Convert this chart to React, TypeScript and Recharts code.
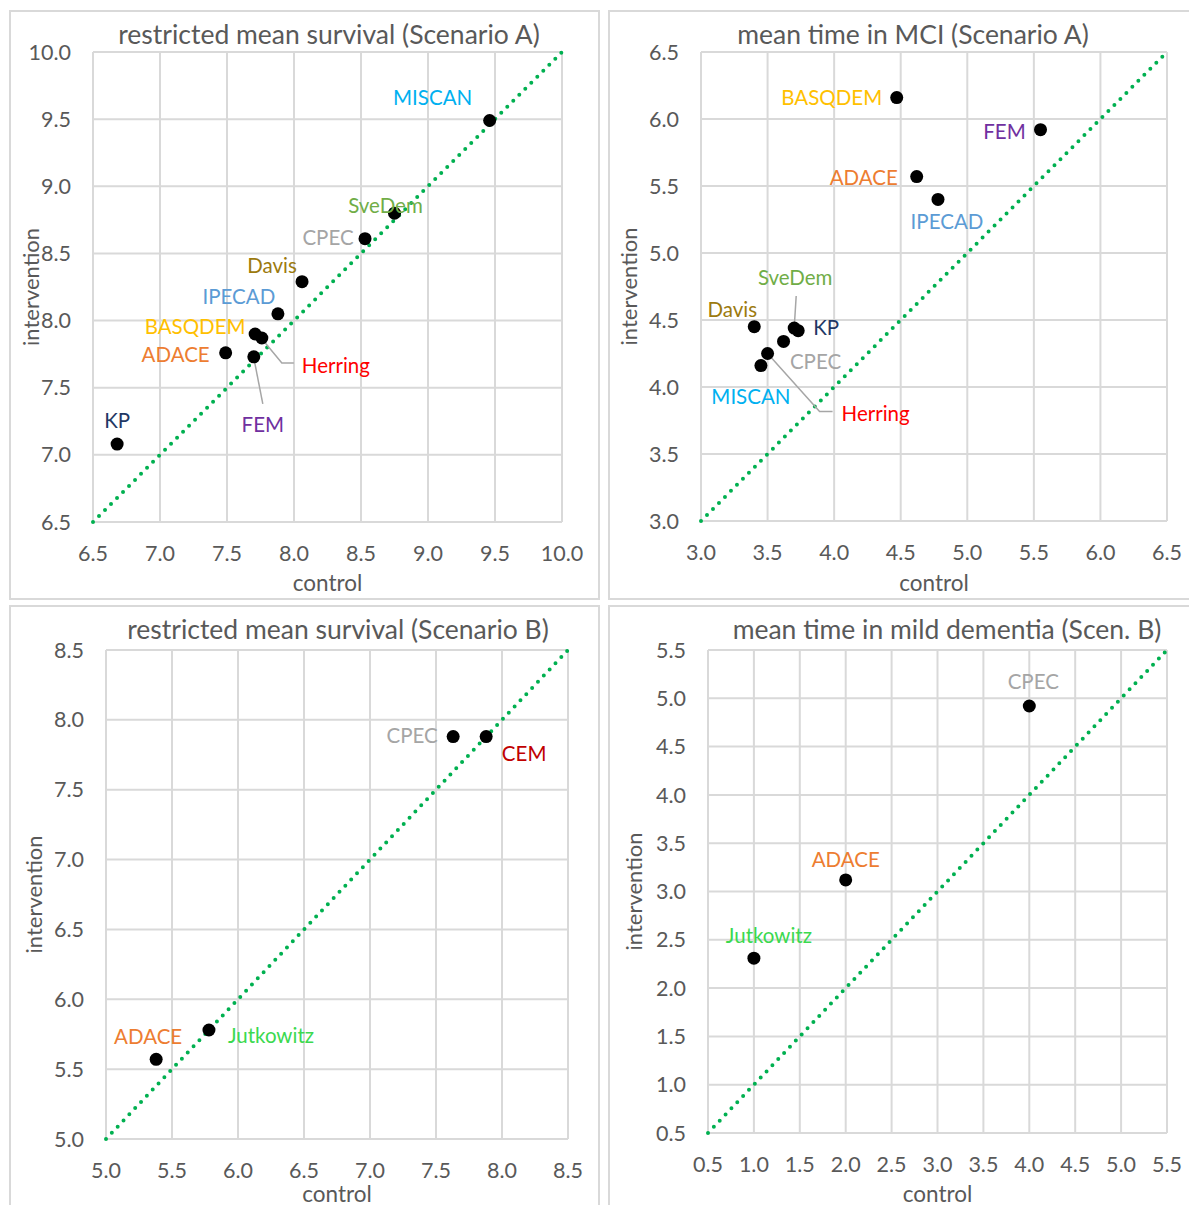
import React from 'react';
import { ScatterChart, Scatter, XAxis, YAxis, CartesianGrid, ReferenceLine, Label } from 'recharts';

// ---- Panel 1: restricted mean survival (Scenario A)
const a1Names = ['MISCAN', 'SveDem', 'CPEC', 'Davis', 'IPECAD', 'BASQDEM', 'Herring', 'FEM', 'ADACE', 'KP'];
const a1Control = [9.46, 8.75, 8.53, 8.06, 7.88, 7.71, 7.76, 7.70, 7.49, 6.68];
const a1Intervention = [9.49, 8.80, 8.61, 8.29, 8.05, 7.90, 7.87, 7.73, 7.76, 7.08];
const a1Ticks = [6.5, 7.0, 7.5, 8.0, 8.5, 9.0, 9.5, 10.0];

// ---- Panel 2: mean time in MCI (Scenario A)
const a2Names = ['BASQDEM', 'FEM', 'ADACE', 'IPECAD', 'SveDem', 'Davis', 'KP', 'CPEC', 'MISCAN', 'Herring'];
const a2Control = [4.47, 5.55, 4.62, 4.78, 3.70, 3.40, 3.73, 3.62, 3.45, 3.50];
const a2Intervention = [6.16, 5.92, 5.57, 5.40, 4.44, 4.45, 4.42, 4.34, 4.16, 4.25];
const a2Ticks = [3.0, 3.5, 4.0, 4.5, 5.0, 5.5, 6.0, 6.5];

// ---- Panel 3: restricted mean survival (Scenario B)
const b1Names = ['CPEC', 'CEM', 'ADACE', 'Jutkowitz'];
const b1Control = [7.63, 7.88, 5.38, 5.78];
const b1Intervention = [7.88, 7.88, 5.57, 5.78];
const b1Ticks = [5.0, 5.5, 6.0, 6.5, 7.0, 7.5, 8.0, 8.5];

// ---- Panel 4: mean time in mild dementia (Scen. B)
const b2Names = ['CPEC', 'ADACE', 'Jutkowitz'];
const b2Control = [4.0, 2.0, 1.0];
const b2Intervention = [4.92, 3.12, 2.31];
const b2Ticks = [0.5, 1.0, 1.5, 2.0, 2.5, 3.0, 3.5, 4.0, 4.5, 5.0, 5.5];

// ---- styles
const COLORS: Record<string, string> = {
  MISCAN: '#00B0F0',
  SveDem: '#70AD47',
  CPEC: '#A5A5A5',
  Davis: '#9C7A0E',
  IPECAD: '#5B9BD5',
  BASQDEM: '#FFC000',
  Herring: '#FF0000',
  FEM: '#7030A0',
  ADACE: '#ED7D31',
  KP: '#1F3864',
  CEM: '#C00000',
  Jutkowitz: '#3BD94F',
};

type LabelStyle = { dx: number; dy: number; anchor?: 'start' | 'middle' | 'end'; leader?: number[][] };

const a1Labels: Record<string, LabelStyle> = {
  MISCAN: { dx: -57, dy: -23 },
  SveDem: { dx: -9, dy: -8 },
  CPEC: { dx: -37, dy: -2 },
  Davis: { dx: -30, dy: -17 },
  IPECAD: { dx: -39, dy: -18 },
  BASQDEM: { dx: -60, dy: -8 },
  ADACE: { dx: -50, dy: 1 },
  Herring: { dx: 40, dy: 27, anchor: 'start', leader: [[1, 2], [20, 25], [32, 25]] },
  FEM: { dx: 9, dy: 67, leader: [[0, 1], [9, 47]] },
  KP: { dx: 0, dy: -24 },
};
const a2Labels: Record<string, LabelStyle> = {
  BASQDEM: { dx: -65, dy: -1 },
  FEM: { dx: -36, dy: 1 },
  ADACE: { dx: -53, dy: 0 },
  IPECAD: { dx: 9, dy: 22 },
  SveDem: { dx: 1, dy: -51, leader: [[0, 0], [2, -32]] },
  Davis: { dx: -22, dy: -18 },
  KP: { dx: 28, dy: -4 },
  CPEC: { dx: 32, dy: 20 },
  MISCAN: { dx: -10, dy: 30 },
  Herring: { dx: 74, dy: 59, anchor: 'start', leader: [[0, 0], [52, 58], [65, 58]] },
};
const b1Labels: Record<string, LabelStyle> = {
  CPEC: { dx: -41, dy: -2 },
  CEM: { dx: 38, dy: 16 },
  ADACE: { dx: -8, dy: -23 },
  Jutkowitz: { dx: 62, dy: 5 },
};
const b2Labels: Record<string, LabelStyle> = {
  CPEC: { dx: 4, dy: -25 },
  ADACE: { dx: 0, dy: -21 },
  Jutkowitz: { dx: 15, dy: -23 },
};

const FONT = 'Lato, "Open Sans", sans-serif';
const TEXT_GRAY = '#595959';
const GRID = '#D9D9D9';

type PanelCfg = {
  title: string;
  names: string[];
  control: number[];
  intervention: number[];
  ticks: number[];
  labels: Record<string, LabelStyle>;
  box: { left: number; top: number; w: number; h: number };
  plot: { x0: number; x1: number; y0: number; y1: number };
  titleX: number;
  yLabelX: number;
  xLabelDy: number;
};

const panels: PanelCfg[] = [
  {
    title: 'restricted mean survival (Scenario A)',
    names: a1Names, control: a1Control, intervention: a1Intervention, ticks: a1Ticks, labels: a1Labels,
    box: { left: 9, top: 10, w: 591, h: 590 },
    plot: { x0: 93, x1: 562, y0: 52, y1: 522 },
    titleX: 329, yLabelX: 30, xLabelDy: 60,
  },
  {
    title: 'mean time in MCI (Scenario A)',
    names: a2Names, control: a2Control, intervention: a2Intervention, ticks: a2Ticks, labels: a2Labels,
    box: { left: 608, top: 10, w: 583, h: 590 },
    plot: { x0: 701, x1: 1167, y0: 52, y1: 521 },
    titleX: 913, yLabelX: 628, xLabelDy: 61,
  },
  {
    title: 'restricted mean survival (Scenario B)',
    names: b1Names, control: b1Control, intervention: b1Intervention, ticks: b1Ticks, labels: b1Labels,
    box: { left: 9, top: 605, w: 591, h: 602 },
    plot: { x0: 106, x1: 568, y0: 650, y1: 1139 },
    titleX: 338, yLabelX: 33, xLabelDy: 54,
  },
  {
    title: 'mean time in mild dementia (Scen. B)',
    names: b2Names, control: b2Control, intervention: b2Intervention, ticks: b2Ticks, labels: b2Labels,
    box: { left: 608, top: 605, w: 583, h: 602 },
    plot: { x0: 708, x1: 1167, y0: 650, y1: 1133 },
    titleX: 947, yLabelX: 633, xLabelDy: 60,
  },
];

const fmt = (v: number) => v.toFixed(1);

function makeShape(labels: Record<string, LabelStyle>) {
  return (props: any) => {
    const { cx, cy, payload } = props;
    const name = payload.name as string;
    const st = labels[name];
    const color = COLORS[name];
    return (
      <g>
        {st && st.leader ? (
          <polyline
            points={st.leader.map((p) => `${cx + p[0]},${cy + p[1]}`).join(' ')}
            fill="none"
            stroke="#A6A6A6"
            strokeWidth={1.5}
          />
        ) : null}
        <circle cx={cx} cy={cy} r={6.5} fill="#000" />
        {st ? (
          <text
            x={cx + st.dx}
            y={cy + st.dy}
            textAnchor={st.anchor || 'middle'}
            dominantBaseline="central"
            fill={color}
            fontSize={20.5}
            fontFamily={FONT}
          >
            {name}
          </text>
        ) : null}
      </g>
    );
  };
}

function Panel({ cfg }: { cfg: PanelCfg }) {
  const { box, plot } = cfg;
  const data = cfg.names.map((n, i) => ({ name: n, x: cfg.control[i], y: cfg.intervention[i] }));
  const lo = cfg.ticks[0];
  const hi = cfg.ticks[cfg.ticks.length - 1];
  const yW = plot.x0 - box.left;
  const xH = box.top + box.h - plot.y1;
  const margin = { top: plot.y0 - box.top, right: box.left + box.w - plot.x1, left: 0, bottom: 0 };
  const yLabelRel = cfg.yLabelX - box.left;
  return (
    <div
      style={{
        position: 'absolute',
        left: box.left,
        top: box.top,
        width: box.w,
        height: box.h,
        boxSizing: 'border-box',
      }}
    >
      <div
        style={{
          position: 'absolute',
          left: 0,
          top: 0,
          width: box.w,
          height: box.h,
          boxSizing: 'border-box',
          border: `2px solid ${GRID}`,
        }}
      />
      <div
        style={{
          position: 'absolute',
          left: cfg.titleX - box.left - 300,
          width: 600,
          top: 24 - 16,
          height: 32,
          lineHeight: '32px',
          textAlign: 'center',
          fontFamily: FONT,
          fontSize: 26.5,
          color: TEXT_GRAY,
          whiteSpace: 'nowrap',
        }}
      >
        {cfg.title}
      </div>
      <div style={{ position: 'absolute', left: 0, top: 0 }}>
        <ScatterChart width={box.w} height={box.h} margin={margin}>
          <CartesianGrid stroke={GRID} strokeWidth={2} />
          <XAxis
            type="number"
            dataKey="x"
            domain={[lo, hi]}
            ticks={cfg.ticks}
            tickFormatter={fmt}
            axisLine={false}
            tickLine={false}
            tickSize={0}
            tickMargin={24}
            height={xH}
            allowDataOverflow
            interval={0}
            tick={{ fill: TEXT_GRAY, fontSize: 21.5, fontFamily: FONT }}
          >
            <Label
              content={(p: any) => {
                const vb = p.viewBox || {};
                return (
                  <text
                    x={vb.x + vb.width / 2}
                    y={vb.y + cfg.xLabelDy}
                    textAnchor="middle"
                    dominantBaseline="central"
                    fill={TEXT_GRAY}
                    fontSize={22.5}
                    fontFamily={FONT}
                  >
                    control
                  </text>
                );
              }}
            />
          </XAxis>
          <YAxis
            type="number"
            dataKey="y"
            domain={[lo, hi]}
            ticks={cfg.ticks}
            tickFormatter={fmt}
            axisLine={false}
            tickLine={false}
            tickSize={0}
            tickMargin={22}
            width={yW}
            allowDataOverflow
            interval={0}
            tick={{ fill: TEXT_GRAY, fontSize: 21.5, fontFamily: FONT }}
          >
            <Label
              content={(p: any) => {
                const vb = p.viewBox || {};
                const cy = vb.y + vb.height / 2;
                return (
                  <text
                    x={yLabelRel}
                    y={cy}
                    textAnchor="middle"
                    dominantBaseline="central"
                    fill={TEXT_GRAY}
                    fontSize={22}
                    fontFamily={FONT}
                    transform={`rotate(-90 ${yLabelRel} ${cy})`}
                  >
                    intervention
                  </text>
                );
              }}
            />
          </YAxis>
          <ReferenceLine
            segment={[{ x: lo, y: lo }, { x: hi, y: hi }]}
            stroke="#00B050"
            strokeWidth={4}
            strokeDasharray="0 8.5"
            strokeLinecap="round"
            ifOverflow="visible"
          />
          <Scatter data={data} isAnimationActive={false} shape={makeShape(cfg.labels)} />
        </ScatterChart>
      </div>
    </div>
  );
}

export default function App() {
  return (
    <div style={{ position: 'relative', width: 1189, height: 1205, background: '#fff', overflow: 'hidden' }}>
      <style>{`body{margin:0;}`}</style>
      {panels.map((p, i) => (
        <Panel key={i} cfg={p} />
      ))}
    </div>
  );
}
